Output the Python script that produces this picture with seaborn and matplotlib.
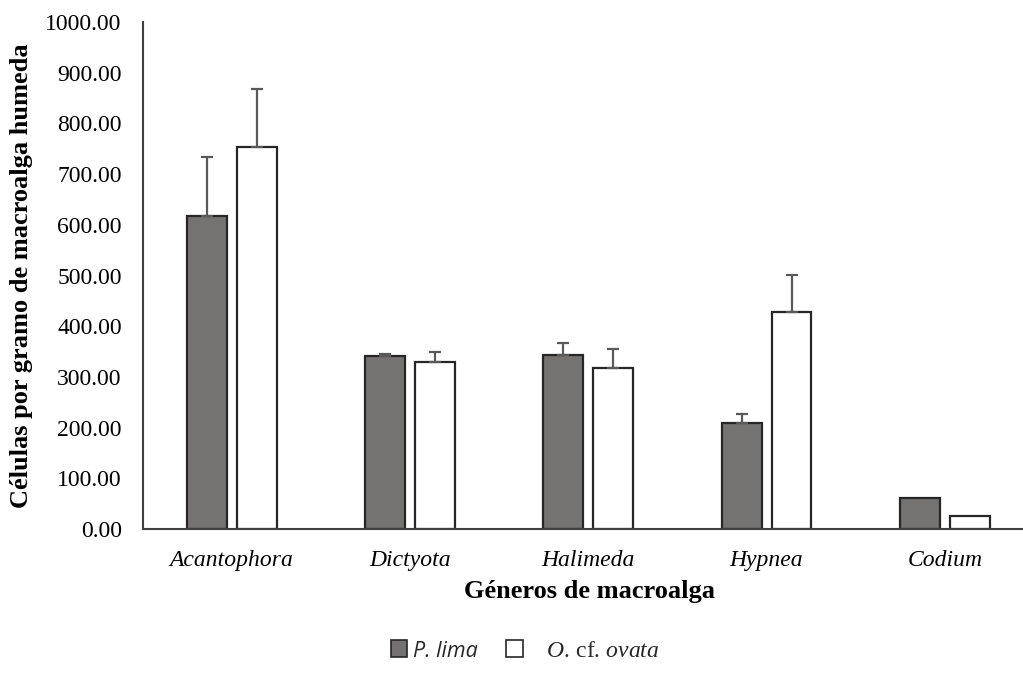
import matplotlib
matplotlib.use("Agg")
import matplotlib.pyplot as plt
import seaborn as sns
import pandas as pd
from matplotlib.patches import Patch

# ---- data ----
generos = ["Acantophora", "Dictyota", "Halimeda", "Hypnea", "Codium"]
especies = ["P. lima", "O. cf. ovata"]
p_lima = [617, 341, 343, 209, 62]
o_ovata = [754, 330, 317, 428, 25]
p_lima_err = [117, 4, 24, 18, 0]
o_ovata_err = [113, 19, 39, 73, 0]
y_ticks = [0, 100, 200, 300, 400, 500, 600, 700, 800, 900, 1000]

df = pd.DataFrame({
    "genero": generos * 2,
    "especie": [especies[0]] * len(generos) + [especies[1]] * len(generos),
    "valor": p_lima + o_ovata,
})

sns.set_theme(style="white")
plt.rcParams["font.family"] = ["Liberation Serif", "DejaVu Serif"]
plt.rcParams["mathtext.fontset"] = "custom"
plt.rcParams["mathtext.it"] = "Liberation Serif:italic"
plt.rcParams["mathtext.rm"] = "Liberation Serif"

fig = plt.figure(figsize=(10.23, 6.73), dpi=100)
ax = fig.add_axes([142.5 / 1023, 1 - 529 / 673, (1034 - 142.5) / 1023, (529 - 22) / 673])

fill_dark = "#767171"
edge = "#262626"
palette = {especies[0]: fill_dark, especies[1]: "#ffffff"}

sns.barplot(data=df, x="genero", y="valor", hue="especie", order=generos,
            hue_order=especies, palette=palette, width=0.56, gap=0.2,
            errorbar=None, edgecolor=edge, linewidth=1.6, ax=ax, legend=False)

for cont, errs in zip(ax.containers, [p_lima_err, o_ovata_err]):
    for bar, e in zip(cont, errs):
        if e <= 0:
            continue
        cx = bar.get_x() + bar.get_width() / 2
        top = bar.get_height()
        ax.errorbar([cx], [top], yerr=[[0], [e]], fmt="none", ecolor="#595959",
                    elinewidth=1.6, capsize=4.5, capthick=1.6, zorder=1)

ax.set_xlim(-0.5, 4.5)
ax.set_ylim(0, 1000)
ax.set_yticks(y_ticks)
ax.set_yticklabels([f"{v:.2f}" for v in y_ticks], fontsize=17, color="#000000")
ax.set_xticks(range(len(generos)))
ax.set_xticklabels(generos, fontsize=17, style="italic", color="#000000")
ax.tick_params(axis="y", length=0, pad=15)
ax.tick_params(axis="x", length=0, pad=15)

for s in ["top", "right"]:
    ax.spines[s].set_visible(False)
for s in ["left", "bottom"]:
    ax.spines[s].set_color("#404040")
    ax.spines[s].set_linewidth(1.5)

ax.set_ylabel("Células por gramo de macroalga humeda", fontsize=19, fontweight="bold", color="#000000")
ax.yaxis.set_label_coords(-(142.5 - 33) / 891.5, (529 - 276) / 507)
ax.set_xlabel("Géneros de macroalga", fontsize=19, fontweight="bold", color="#000000")
ax.xaxis.set_label_coords((589 - 142.5) / 891.5, -(580 - 529) / 507)

handles = [Patch(facecolor=fill_dark, edgecolor=edge, linewidth=1.2),
           Patch(facecolor="#ffffff", edgecolor=edge, linewidth=1.2)]
labels = ["P. lima", r"   $\mathit{O}$. cf. $\mathit{ovata}$"]
leg = fig.legend(handles, labels, loc="center", bbox_to_anchor=(525 / 1023, 1 - 651 / 673),
                 ncol=2, frameon=False, fontsize=17, handlelength=0.7, handleheight=0.7,
                 handletextpad=0.25, columnspacing=1.2)
leg.get_texts()[0].set_fontfamily(["Open Sans", "DejaVu Sans"])
leg.get_texts()[0].set_fontstyle("italic")
leg.get_texts()[0].set_fontsize(15.5)

fig.savefig("out.png", dpi=100)
